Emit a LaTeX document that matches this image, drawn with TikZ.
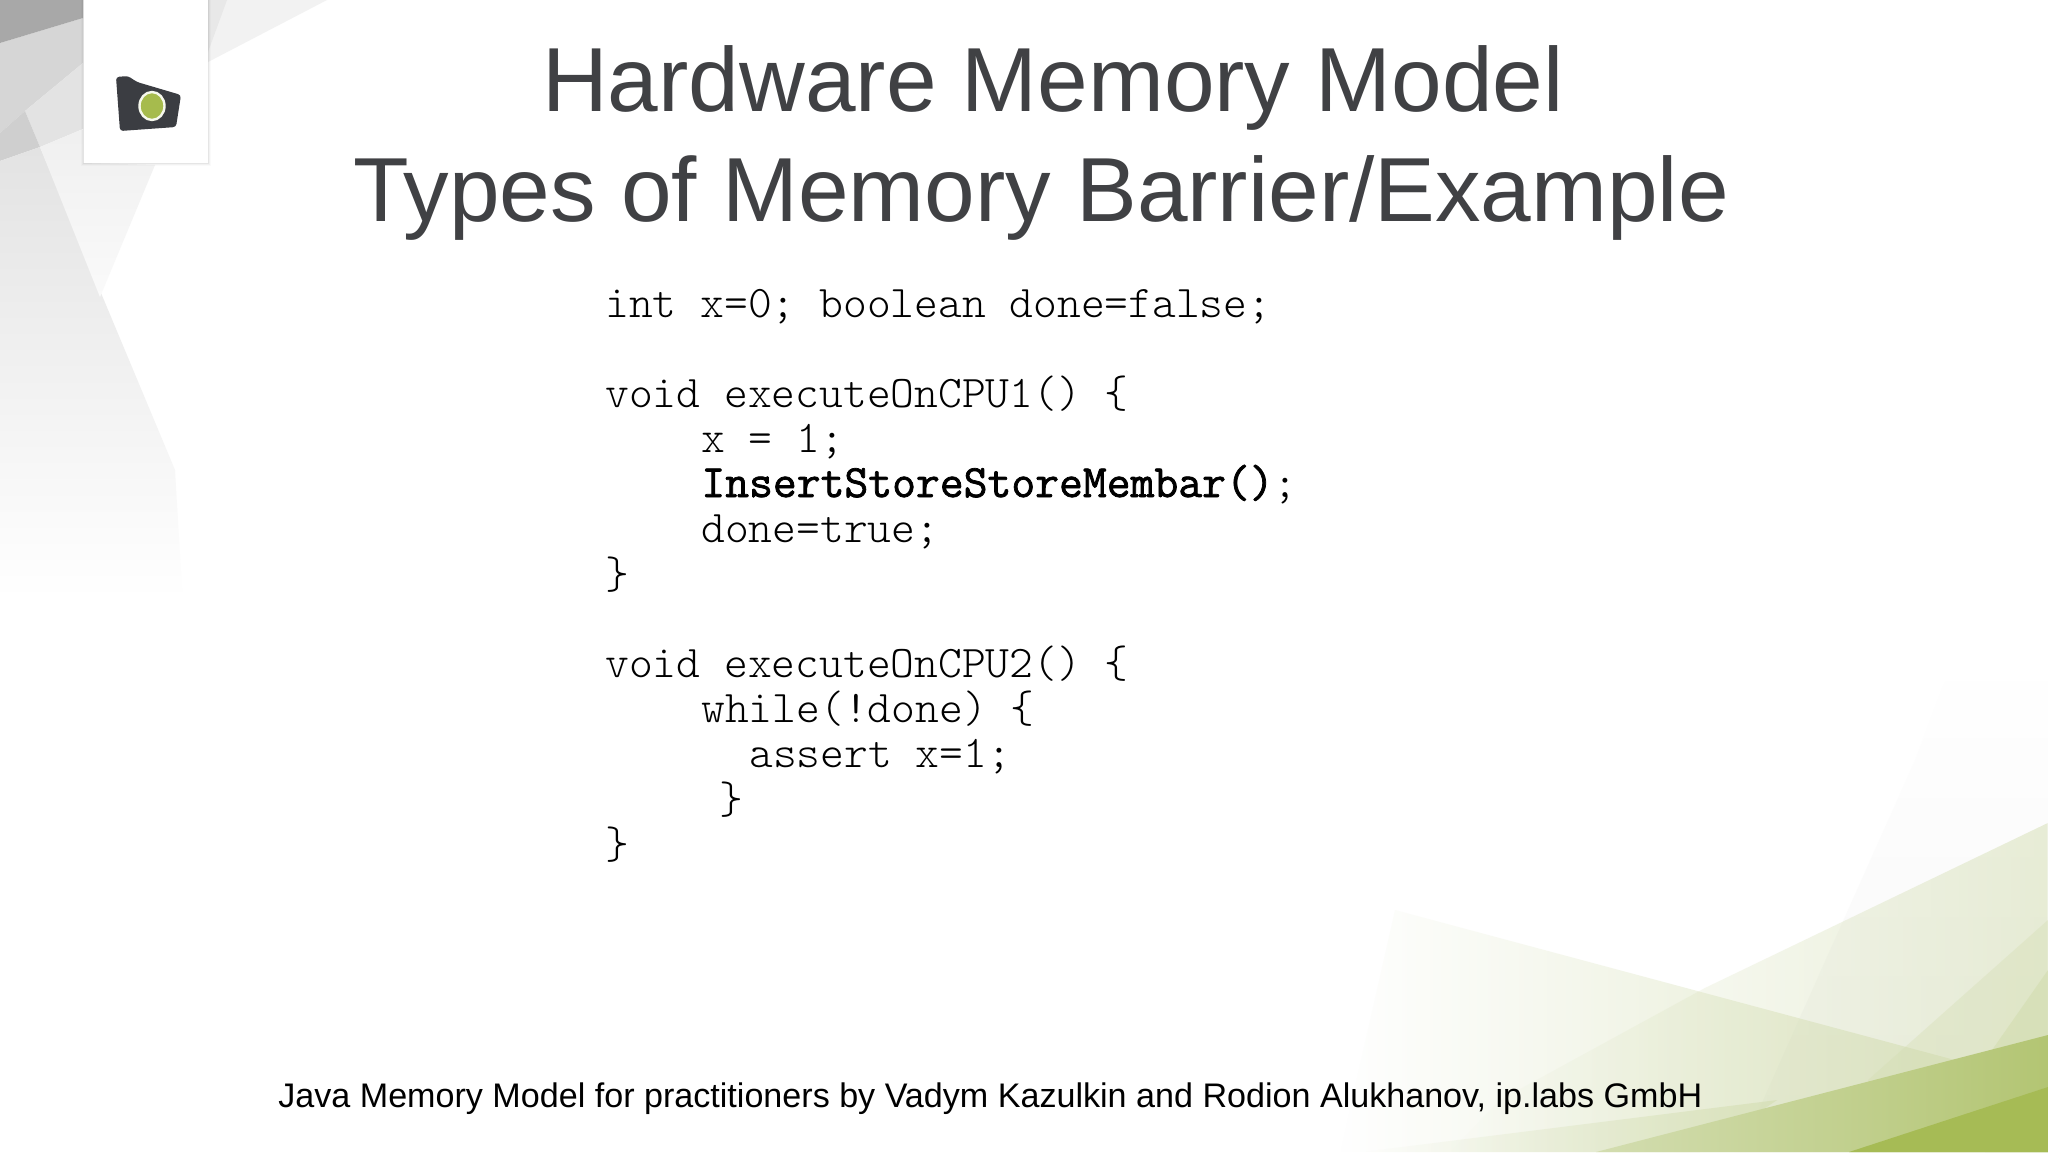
\documentclass[tikz,border=0pt]{standalone}
\usepackage{fontspec}
\setmainfont{Liberation Sans}
\newfontfamily\codefont{Latin Modern Mono Light}
\newfontfamily\codebold[FakeBold=1.6]{Latin Modern Mono}
\usetikzlibrary{fadings}
\definecolor{titlegray}{HTML}{404144}
\definecolor{logodark}{HTML}{3B3D42}
\definecolor{logogreen}{HTML}{A6BB4D}
\definecolor{bandA}{HTML}{D3DDB0}
\definecolor{bandB}{HTML}{B3C573}
\definecolor{bandC}{HTML}{A6BB55}
\tikzfading[name=fadeleft,left color=transparent!100,middle color=transparent!80,right color=transparent!0]
\tikzfading[name=fadetop,top color=transparent!100,bottom color=transparent!0]
\tikzset{
  x=0.5pt,y=-0.5pt,
  titletext/.style={font=\fontsize{45.5}{45.5}\selectfont,text=titlegray,anchor=base,inner sep=0pt},
  codeline/.style={font=\codefont\fontsize{22.65}{22.65}\selectfont,text=black,anchor=base west,inner sep=0pt},
  foottext/.style={font=\fontsize{17.05}{17.05}\selectfont,text=black,anchor=base west,inner sep=0pt},
  greenfade/.style={fill=bandA,path fading=fadeleft},
}
\begin{document}
\begin{tikzpicture}
\useasboundingbox (0,0) rectangle (2048,1152);
\fill[white] (0,0) rectangle (2048,1152);
% grey background, top left
\fill[black!16] (0,43) -- (83,18) -- (83,63) -- (25,111) -- (0,133) -- cycle;
\fill[black!11] (25,111) -- (83,63) -- (83,129) -- (40,147) -- cycle;
\fill[black!19] (0,133) -- (25,111) -- (40,147) -- (0,161) -- cycle;
\begin{scope}
  \clip (0,161) -- (40,147) -- (175,470) -- (185,640) -- (0,640) -- cycle;
  \shade[top color=black!11,middle color=black!4,bottom color=white] (0,147) rectangle (200,600);
\end{scope}
\begin{scope}
  \clip (40,147) -- (83,129) -- (83,163) -- (155,165) -- (130,225) -- (100,297) -- cycle;
  \shade[top color=black!6,bottom color=black!2] (0,130) rectangle (200,297);
\end{scope}
\fill[black!5] (208,0) -- (327,0) -- (208,62) -- cycle;
\fill[black!9] (208,0) -- (227,0) -- (208,52) -- cycle;
\fill[black!34] (0,0) -- (83,0) -- (83,18) -- (0,43) -- cycle;
% green background, bottom right
\fill[black!3,path fading=fadetop] (1915,760) -- (1945,680) -- (2048,680) -- (2048,1152) -- (1740,1152) -- (1800,1017) -- cycle;
\fill[greenfade,opacity=.7] (1395,910) -- (2048,1085) -- (2048,1152) -- (1340,1152) -- cycle;
\fill[greenfade,opacity=.5] (2048,823) -- (1705,988) -- (1500,1100) -- (1450,1152) -- (2048,1152) -- cycle;
\fill[bandA,opacity=.35] (2048,920) -- (1868,1080) -- (1868,1152) -- (2048,1152) -- cycle;
\fill[bandA,opacity=.6] (2048,970) -- (1985,1060) -- (1985,1152) -- (2048,1152) -- cycle;
\fill[greenfade,opacity=.6] (1362,1152) -- (1777,1100) -- (1700,1152) -- cycle;
\begin{scope}
  \clip (1596,1152) -- (2048,1035) -- (2048,1152) -- cycle;
  \shade[left color=bandA,right color=bandB] (1596,1030) rectangle (2048,1152);
\end{scope}
\fill[bandC] (1849,1152) -- (2048,1087) -- (2048,1152) -- cycle;
% logo card
\foreach \s/\o in {3/.02,2/.03,1/.05}
  \fill[black,opacity=\o] (84-\s,0) rectangle (208+\s,163+\s);
\fill[white] (84,0) rectangle (208,163);
\fill[logodark,rounded corners=1.5] (116,77) -- (128,76) -- (137,82) -- (181,95) -- (176,127) -- (120,131) -- cycle;
\fill[logogreen,draw=white!90!logogreen,line width=1.2pt] (152,106) ellipse (12.5 and 14);
% title
\node[titletext] (title1) at (1053,111) {Hardware Memory Model};
\node[titletext] (title2) at (1041,221) {Types of Memory Barrier/Example};
% code
\node[codeline] (c0) at (605,317) {int x=0; boolean done=false;};
\node[codeline] (c2) at (605,407) {void executeOnCPU1() \{};
\node[codeline] (c3) at (701,452) {x = 1;};
\node[codeline] (c4) at (701,497) {{\codebold\fontsize{23.15}{23.15}\selectfont InsertStoreStoreMembar()};};
\node[codeline] (c5) at (701,542) {done=true;};
\node[codeline] (c6) at (605,588) {\}};
\node[codeline] (c8) at (605,677) {void executeOnCPU2() \{};
\node[codeline] (c9) at (701,722) {while(!done) \{};
\node[codeline] (c10) at (749,767) {assert x=1;};
\node[codeline] (c11) at (719,813) {\}};
\node[codeline] (c12) at (605,858) {\}};
% footer
\node[foottext] (foot) at (278,1107) {Java Memory Model for practitioners by Vadym Kazulkin and Rodion Alukhanov, ip.labs GmbH};
\end{tikzpicture}
\end{document}
